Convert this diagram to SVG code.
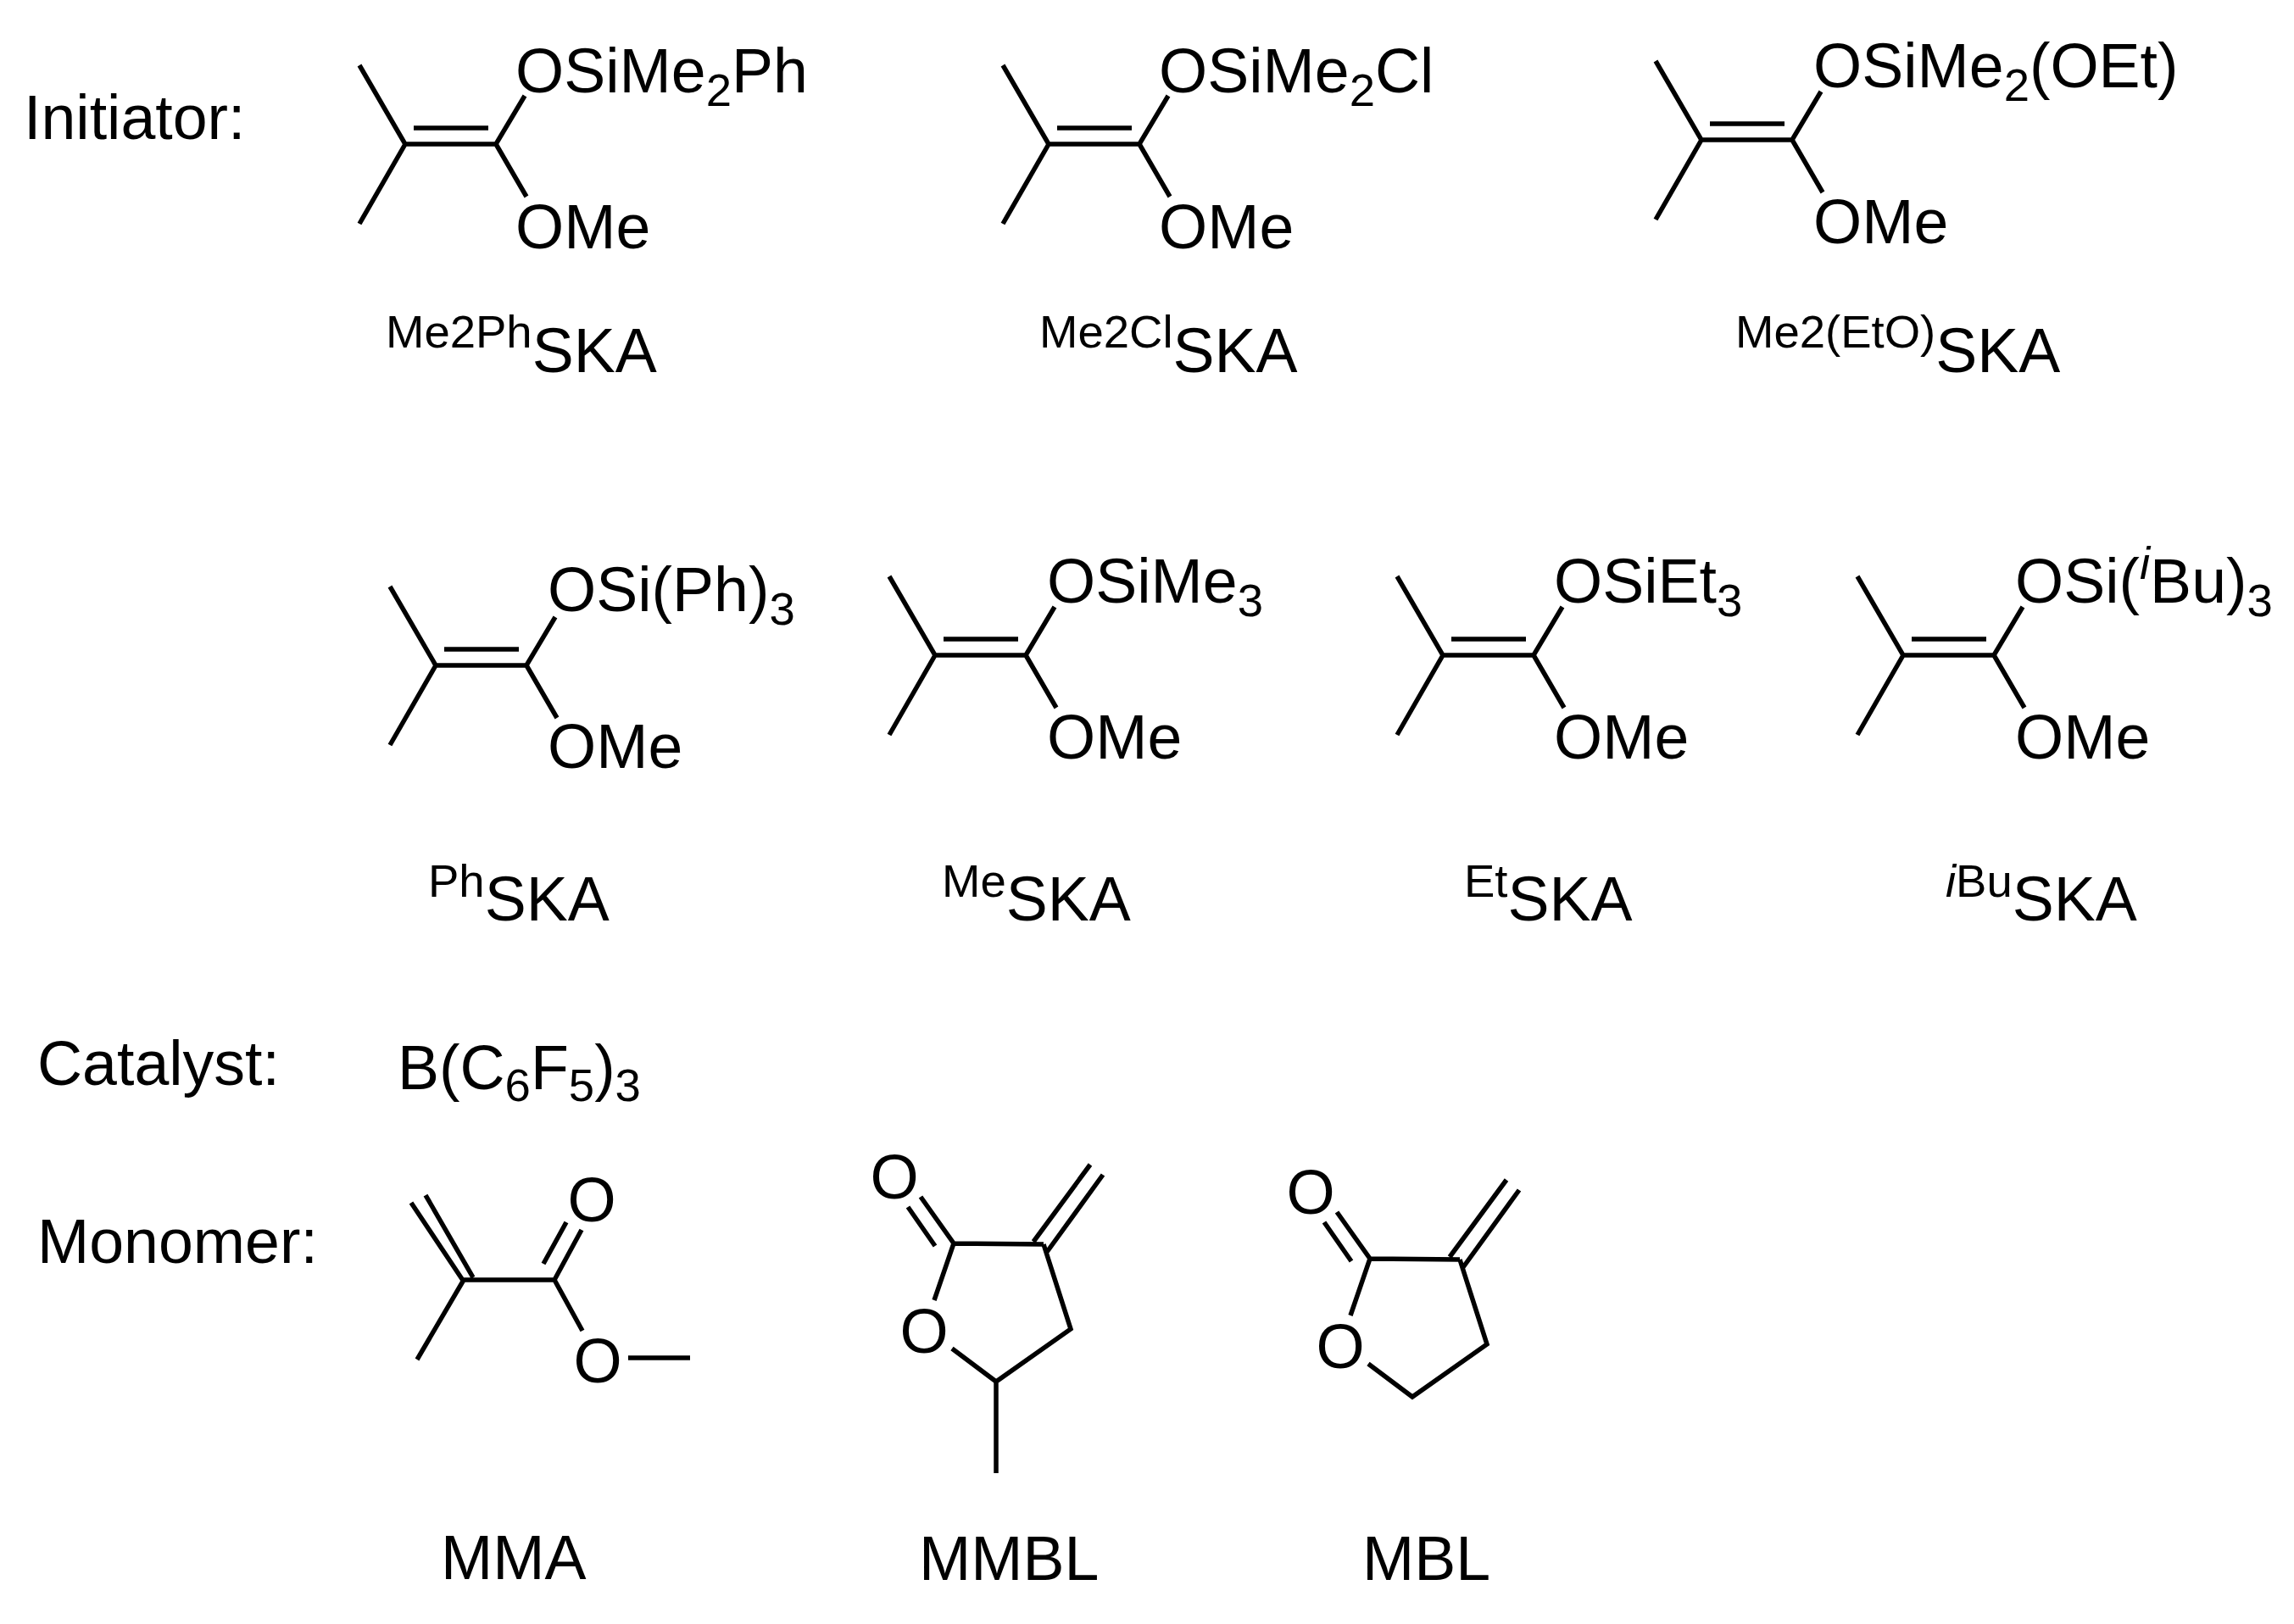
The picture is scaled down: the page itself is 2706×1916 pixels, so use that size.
<svg xmlns="http://www.w3.org/2000/svg" width="2706" height="1916" viewBox="0 0 2706 1916">
<style>
text{font-family:"Liberation Sans",Arial,sans-serif;font-size:73.5px;fill:#000}
.s{font-size:54.5px}
.m{font-size:73.5px}
.b{fill:none;stroke:#000;stroke-width:5.5;stroke-linecap:butt;stroke-linejoin:miter}
</style>
<defs>
<g id="enol"><path class="b" d="M424 77L478 170L424 264M478 170H585L619 113M585 170L621 232M488 151H576"/></g>
</defs>
<rect width="2706" height="1916" fill="#fff"/>
<g id="labels">
<text x="28" y="164">Initiator:</text>
<text x="44" y="1280">Catalyst:</text>
<text x="44" y="1490">Monomer:</text>
</g>
<g id="me2ph">
<use href="#enol"/>
<text x="608" y="108.500">OSiMe<tspan class="s" dy="16">2</tspan><tspan dy="-16">Ph</tspan></text>
<text x="608" y="293">OMe</text>
<text x="455" y="410" class="s">Me2Ph<tspan class="m" dy="29">SKA</tspan></text>
</g>
<g id="me2cl">
<use href="#enol" x="759"/>
<text x="1367" y="108.500">OSiMe<tspan class="s" dy="16">2</tspan><tspan dy="-16">Cl</tspan></text>
<text x="1367" y="293">OMe</text>
<text x="1226" y="410" class="s">Me2Cl<tspan class="m" dy="29">SKA</tspan></text>
</g>
<g id="me2eto">
<use href="#enol" x="1529" y="-5"/>
<text x="2139" y="102.500">OSiMe<tspan class="s" dy="16">2</tspan><tspan dy="-16">(OEt)</tspan></text>
<text x="2139" y="287">OMe</text>
<text x="2047" y="410" class="s">Me2(EtO)<tspan class="m" dy="29">SKA</tspan></text>
</g>
<g id="ph">
<use href="#enol" x="36" y="615"/>
<text x="646" y="721">OSi(Ph)<tspan class="s" dy="16">3</tspan></text>
<text x="646" y="906">OMe</text>
<text x="505" y="1058" class="s">Ph<tspan class="m" dy="28">SKA</tspan></text>
</g>
<g id="me">
<use href="#enol" x="625" y="603"/>
<text x="1235" y="711">OSiMe<tspan class="s" dy="16">3</tspan></text>
<text x="1235" y="895">OMe</text>
<text x="1111" y="1058" class="s">Me<tspan class="m" dy="28">SKA</tspan></text>
</g>
<g id="et">
<use href="#enol" x="1224" y="603"/>
<text x="1833" y="711">OSiEt<tspan class="s" dy="16">3</tspan></text>
<text x="1833" y="895">OMe</text>
<text x="1727" y="1058" class="s">Et<tspan class="m" dy="28">SKA</tspan></text>
</g>
<g id="ibu">
<use href="#enol" x="1767" y="603"/>
<text x="2377" y="711">OSi(<tspan class="s" font-style="italic" dy="-28">i</tspan><tspan dy="28">Bu)</tspan><tspan class="s" dy="16">3</tspan></text>
<text x="2377" y="895">OMe</text>
<text x="2295" y="1058" class="s"><tspan font-style="italic">i</tspan>Bu<tspan class="m" dy="28">SKA</tspan></text>
</g>
<g id="catalyst">
<text x="469" y="1285">B(C<tspan class="s" dy="14">6</tspan><tspan dy="-14">F</tspan><tspan class="s" dy="14">5</tspan><tspan dy="-14">)</tspan><tspan class="s" dy="14">3</tspan></text>
</g>
<g id="mma">
<path class="b" d="M485 1419L547 1512M502 1410L558 1507M547 1510H654M547 1510L492 1604M654 1510L687 1570M654 1510L686 1451M641 1491L668 1442M741 1602H814"/>
<text x="698" y="1441" text-anchor="middle">O</text>
<text x="705" y="1631" text-anchor="middle">O</text>
<text x="520" y="1863">MMA</text>
</g>
<g id="mmbl">
<path class="b" d="M1102 1534L1125 1467L1086 1412M1103 1470L1071 1424M1125 1467L1231 1468M1235 1477L1301 1386M1219 1465L1286 1374M1231 1468L1263 1568L1175 1630L1123 1591M1175 1630V1738"/>
<text x="1055" y="1414" text-anchor="middle">O</text>
<text x="1090" y="1596" text-anchor="middle">O</text>
<text x="1084" y="1864">MMBL</text>
</g>
<g id="mbl">
<path class="b" d="M1593 1552L1616 1485L1577 1430M1594 1488L1562 1442M1616 1485L1722 1486M1726 1495L1792 1404M1710 1483L1777 1392M1722 1486L1754 1586L1666 1648L1614 1609"/>
<text x="1546" y="1432" text-anchor="middle">O</text>
<text x="1581" y="1614" text-anchor="middle">O</text>
<text x="1607" y="1864">MBL</text>
</g>
</svg>
